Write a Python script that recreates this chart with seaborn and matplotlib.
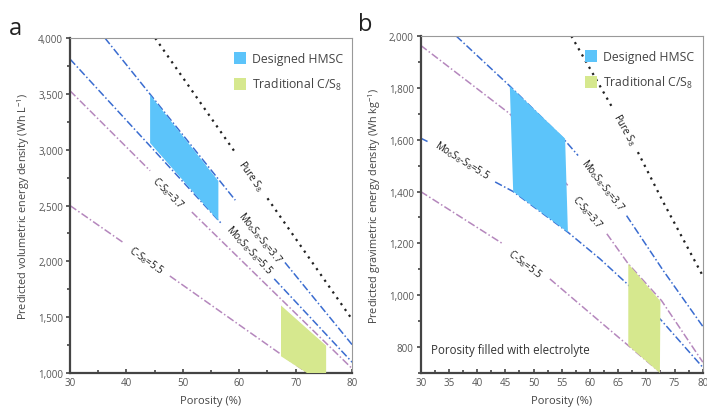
import numpy as np
import pandas as pd
import matplotlib
matplotlib.use("Agg")
import matplotlib.pyplot as plt
import seaborn as sns
from matplotlib.patches import Patch

sns.set_theme(style="white")
plt.rcParams['font.family'] = ['Open Sans', 'DejaVu Sans']
plt.rcParams['mathtext.fontset'] = 'custom'
plt.rcParams['mathtext.rm'] = 'Open Sans'

# ---------------- Data: panel a (volumetric) ----------------
a_pure_x = [[45.1, 59.5], [65.0, 80.0]]
a_pure_y = [[4000, 2960], [2565, 1480]]
a_mo37_x = [[36.2, 59.3], [68.1, 80.0]]
a_mo37_y = [[4000, 2548], [1990, 1254]]
a_mo55_x = [[30.0, 57.0], [66.2, 80.0]]
a_mo55_y = [[3812, 2330], [1843, 1097]]
a_c37_x = [[30.0, 44.2], [51.6, 80.0]]
a_c37_y = [[3528, 2812], [2442, 1040]]
a_c55_x = [[30.0, 39.4], [47.7, 72.1]]
a_c55_y = [[2500, 2170], [1869, 1000]]
a_hmsc_x = [44.2, 56.3, 56.3, 44.2]
a_hmsc_y = [3492, 2720, 2364, 3060]
a_trad_x = [67.4, 75.4, 75.4, 72.0, 67.4]
a_trad_y = [1605, 1245, 1000, 1000, 1150]

# ---------------- Data: panel b (gravimetric) ----------------
b_pure_x = [[56.7, 64.1], [68.5, 73.0, 80.0]]
b_pure_y = [[2000, 1719], [1552, 1359, 1075]]
b_mo37_x = [[36.3, 45.8, 55.3, 57.9], [66.5, 73.0, 80.0]]
b_mo37_y = [[2000, 1807, 1604, 1539], [1307, 1095, 880]]
b_mo55_x = [[30.0, 31.5], [43.2, 46.4, 56.1, 61.8, 66.8, 72.7, 80.0]]
b_mo55_y = [[1606, 1590], [1437, 1400, 1243, 1140, 1040, 902, 722]]
b_c37_x = [[30.0, 45.8, 56.2], [63.0, 66.8, 72.7, 80.0]]
b_c37_y = [[1964, 1700, 1420], [1237, 1121, 979, 742]]
b_c55_x = [[30.0, 44.6], [52.9, 61.8, 66.8, 72.6]]
b_c55_y = [[1400, 1198], [1063, 898, 806, 700]]
b_hmsc_x = [45.8, 55.6, 56.1, 46.4]
b_hmsc_y = [1807, 1604, 1243, 1400]
b_trad_x = [66.8, 72.5, 72.4, 66.8]
b_trad_y = [1121, 977, 700, 806]

legend_labels = ["Designed HMSC", "Traditional C/S$_8$"]

BLUE = "#3a6cd0"
PURPLE = "#b587bd"
BLACK = "#222222"
FILL_BLUE = "#5cc4fa"
FILL_GREEN = "#d6e88e"
TXT = "#1a1a1a"

fig = plt.figure(figsize=(7.07, 4.14), dpi=100)
axa = fig.add_axes([0.099, 0.0966, 0.399, 0.809])
axb = fig.add_axes([0.595, 0.0966, 0.399, 0.814])


def draw_line(ax, xs, ys, color, style, lw):
    for x, y in zip(xs, ys):
        df = pd.DataFrame({"p": x, "e": y})
        sns.lineplot(data=df, x="p", y="e", ax=ax, color=color, lw=lw,
                     linestyle=style, sort=False, estimator=None, zorder=2)


dashdot = (0, (5, 1.6, 1, 1.6))
dotted = (0, (1, 2.2))

for ax, sets in [
    (axa, [(a_pure_x, a_pure_y, BLACK, dotted, 1.6),
           (a_mo37_x, a_mo37_y, BLUE, dashdot, 1.1),
           (a_mo55_x, a_mo55_y, BLUE, dashdot, 1.1),
           (a_c37_x, a_c37_y, PURPLE, dashdot, 1.1),
           (a_c55_x, a_c55_y, PURPLE, dashdot, 1.1)]),
    (axb, [(b_pure_x, b_pure_y, BLACK, dotted, 1.6),
           (b_mo37_x, b_mo37_y, BLUE, dashdot, 1.1),
           (b_mo55_x, b_mo55_y, BLUE, dashdot, 1.1),
           (b_c37_x, b_c37_y, PURPLE, dashdot, 1.1),
           (b_c55_x, b_c55_y, PURPLE, dashdot, 1.1)])]:
    for xs, ys, c, st, lw in sets:
        draw_line(ax, xs, ys, c, st, lw)

axa.fill(a_hmsc_x, a_hmsc_y, color=FILL_BLUE, lw=0, zorder=3)
axa.fill(a_trad_x, a_trad_y, color=FILL_GREEN, lw=0, zorder=3)
axb.fill(b_hmsc_x, b_hmsc_y, color=FILL_BLUE, lw=0, zorder=3)
axb.fill(b_trad_x, b_trad_y, color=FILL_GREEN, lw=0, zorder=3)

# line labels
lab_kw = dict(fontsize=7, color=TXT, ha="center", va="center", zorder=4)
axa.text(62.0, 2770, "Pure S$_8$", rotation=-55, **lab_kw)
axa.text(63.7, 2222, "Mo$_6$S$_8$-S$_8$=3.7", rotation=-51, **lab_kw)
axa.text(61.7, 2115, "Mo$_6$S$_8$-S$_8$=5.5", rotation=-47, **lab_kw)
axa.text(47.4, 2621, "C-S$_8$=3.7", rotation=-45, **lab_kw)
axa.text(43.5, 2012, "C-S$_8$=5.5", rotation=-35, **lab_kw)

axb.text(66.2, 1642, "Pure S$_8$", rotation=-61, **lab_kw)
axb.text(62.3, 1430, "Mo$_6$S$_8$-S$_8$=3.7", rotation=-52, **lab_kw)
axb.text(37.3, 1522, "Mo$_6$S$_8$-S$_8$=5.5", rotation=-32, **lab_kw)
axb.text(59.6, 1325, "C-S$_8$=3.7", rotation=-49, **lab_kw)
axb.text(48.5, 1121, "C-S$_8$=5.5", rotation=-37, **lab_kw)
axb.text(31.9, 791, "Porosity filled with electrolyte", fontsize=8.3,
         color="#333333", ha="left", va="center")

# axes styling
axa.set_xlim(30, 80)
axa.set_ylim(1000, 4000)
axb.set_xlim(30, 80)
axb.set_ylim(700, 2000)
axa.set_xticks(np.arange(30, 81, 10))
axa.set_xticks(np.arange(35, 80, 10), minor=True)
axa.set_yticks(np.arange(1000, 4001, 500))
axa.set_yticks(np.arange(1250, 4000, 500), minor=True)
axb.set_xticks(np.arange(30, 81, 5))
axb.set_xticks(np.arange(32.5, 80, 5), minor=True)
axb.set_yticks(np.arange(800, 2001, 200))
axb.set_yticks(np.arange(700, 2000, 200), minor=True)

for ax in (axa, axb):
    ax.yaxis.set_major_formatter(matplotlib.ticker.FuncFormatter(lambda v, p: f"{int(v):,}"))
    ax.tick_params(axis="x", which="both", direction="in", length=3, width=1.2,
                   colors="#444444", labelsize=7, labelcolor="#555555", pad=3)
    ax.tick_params(axis="x", which="minor", length=2)
    ax.tick_params(axis="y", which="both", direction="out", length=3, width=1.2,
                   colors="#444444", labelsize=7, labelcolor="#555555", pad=2)
    ax.tick_params(axis="y", which="minor", length=2)
    ax.tick_params(bottom=True, left=True, which="both")
    for s in ("left", "bottom"):
        ax.spines[s].set_color("#444444")
        ax.spines[s].set_linewidth(1.6)
    for s in ("top", "right"):
        ax.spines[s].set_color("#999999")
        ax.spines[s].set_linewidth(0.8)
    ax.set_xlabel("Porosity (%)", fontsize=8, color="#444444", labelpad=5)
    handles = [Patch(facecolor=FILL_BLUE, edgecolor="none"),
               Patch(facecolor=FILL_GREEN, edgecolor="none")]
    ax.legend(handles, legend_labels, frameon=False, fontsize=8.8,
              loc="upper right", bbox_to_anchor=(1.0, 0.985),
              handlelength=1.0, handleheight=1.2, handletextpad=0.5,
              labelspacing=0.9, borderaxespad=0.3, labelcolor="#444444")

axa.set_ylabel("Predicted volumetric energy density (Wh L$^{-1}$)",
               fontsize=7.8, color="#444444", labelpad=4)
axb.set_ylabel("Predicted gravimetric energy density (Wh kg$^{-1}$)",
               fontsize=7.8, color="#444444", labelpad=4)

fig.text(0.012, 0.93, "a", fontsize=17, color="#222222", va="center")
fig.text(0.506, 0.94, "b", fontsize=17, color="#222222", va="center")

fig.savefig("out.png", dpi=100)
